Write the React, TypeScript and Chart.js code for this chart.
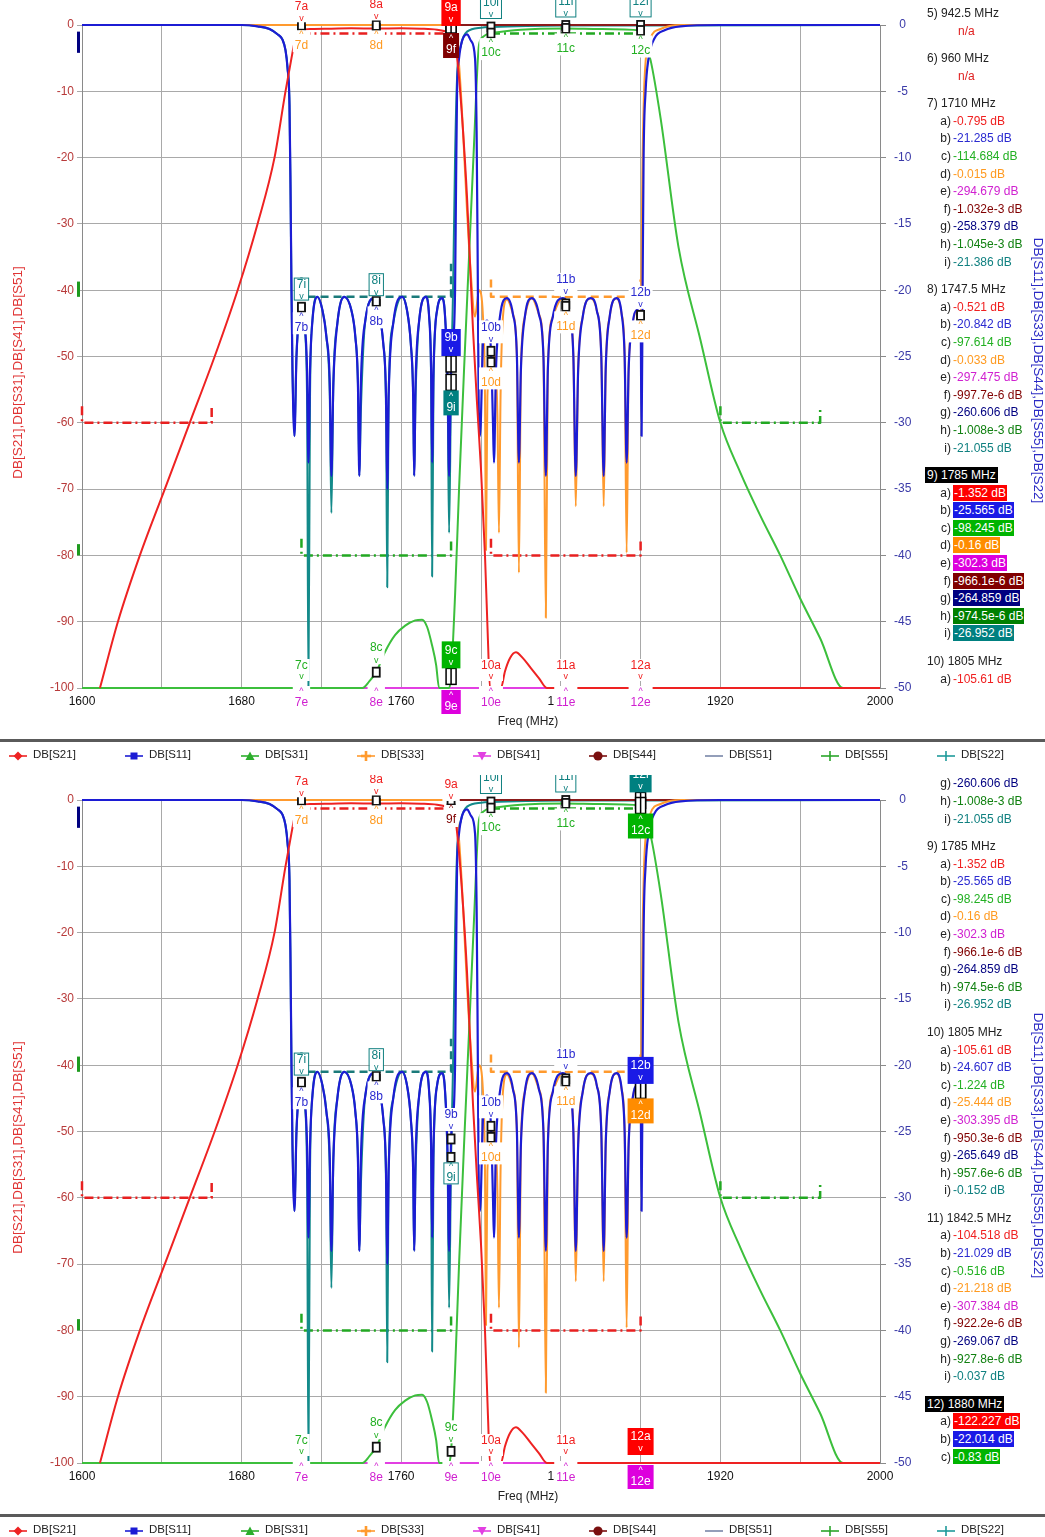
import React, { useEffect, useRef } from "react";
import { Chart, registerables } from "chart.js";

Chart.register(...registerables);

const FONT = "'Liberation Sans', Arial, Helvetica, sans-serif";

// ---------------- axes ----------------
const X_MIN = 1600;
const X_MAX = 2000;
const X_GRID_STEP = 40;
const X_LABEL_STEP = 80;
const YL_MIN = -100;
const YL_MAX = 0;
const YL_STEP = 10;
const YR_MIN = -50;
const YR_MAX = 0;
const YR_STEP = 5;

const X_TITLE = "Freq (MHz)";
const Y_LEFT_TITLE = "DB[S21],DB[S31],DB[S41],DB[S51]";
const Y_RIGHT_TITLE = "DB[S11],DB[S33],DB[S44],DB[S55],DB[S22]";

// ---------------- traces (MHz / dB) ----------------
const S21_F = [
  1609, 1618, 1629, 1641.5, 1654, 1666.5, 1678, 1688, 1696.5, 1702,
  1705, 1707, 1710, 1715, 1725, 1735, 1747.5, 1760, 1770, 1778,
  1782, 1785, 1787, 1789, 1791, 1793, 1794.5, 1796, 1798, 1800,
  1802, 1803.5, 1804.5, 1810, 1812, 1814.5, 1817.5, 1821, 1825, 1829,
  1833, 2000,
];
const S21_V = [
  -100, -90, -80, -70, -60, -50, -40, -30, -20, -10,
  -5, -2, -0.8, -0.6, -0.55, -0.5, -0.52, -0.5, -0.55, -0.7,
  -0.95, -1.35, -2.5, -8, -16, -26, -36, -46, -57, -67,
  -80, -93, -100, -100, -97.5, -95.5, -94.6, -95.5, -97, -98.5,
  -100, -100,
];

const S11_F = [
  1600, 1680, 1688, 1694, 1698, 1700.5, 1702, 1703, 1704, 1704.5, 1705, 1705.5,
  1706.5, 1707.5, 1709, 1710, 1711.5, 1712.8, 1713.5,
  1714.3, 1715.5, 1718, 1720.5, 1722.5, 1724.2, 1725,
  1726, 1728, 1731.5, 1735, 1737, 1738.3, 1739,
  1739.8, 1742, 1746.5, 1749, 1751, 1752.4, 1753,
  1753.7, 1756, 1760.5, 1763, 1764.8, 1766, 1766.5,
  1767.2, 1769, 1772.5, 1774, 1775, 1775.5,
  1776.2, 1778, 1780.5, 1782, 1783.3, 1784,
  1785, 1786, 1787, 1787.5, 1788, 1789, 1790.5, 1793, 1795, 1797, 1797.8, 1798.3, 1798.8, 1799.5,
  1801, 1803, 1805, 1806, 1806.5,
  1807.5, 1809.5, 1813, 1816, 1818, 1819,
  1820, 1822, 1825.5, 1829, 1831.3, 1832.5,
  1833.5, 1836, 1841, 1844, 1846.3, 1847.5,
  1848.7, 1851, 1855, 1858, 1860.3, 1861.5,
  1862.5, 1864.5, 1868, 1870.5, 1872, 1873,
  1874, 1876, 1878, 1880, 1880.5,
  1881, 1881.5, 1882.5, 1884, 1887, 1892, 1900, 1920, 2000,
];
const S11_V = [
  0, 0, -0.1, -0.3, -0.7, -1.1, -1.9, -3.2, -6, -12, -20, -26,
  -31, -25, -21.8, -21.3, -22.5, -26, -33,
  -26, -22.3, -20.5, -21.5, -23.5, -27, -34,
  -27, -22.5, -20.5, -21.5, -23.5, -27, -34,
  -27, -22.3, -20.6, -21.8, -24, -28, -35,
  -28, -22.5, -20.5, -21.6, -24, -28, -34,
  -27, -22.3, -20.5, -22, -26, -33,
  -26, -21.5, -20.6, -22, -27, -34,
  -25.6, -24, -20, -12, -5, -2.5, -1.2, -0.7, -1.2, -2.5, -8, -17, -28, -31,
  -24, -22.3, -24.6, -30, -33,
  -26, -22, -20.6, -21.8, -25, -33,
  -26, -22, -20.6, -21.8, -25, -34,
  -26, -22, -20.6, -21.5, -25, -34,
  -26, -22, -20.6, -21.5, -25, -34,
  -26, -22, -20.6, -21.8, -25, -33,
  -26, -22.5, -21.5, -22, -31,
  -20, -10, -5, -2.5, -1, -0.4, -0.1, 0, 0,
];

const S22_F = [
  1600, 1680, 1688, 1694, 1698, 1700.5, 1702, 1703, 1704, 1704.5, 1705, 1705.5,
  1706.5, 1707.5, 1709, 1710, 1711.5, 1712.8, 1713.5,
  1714.3, 1715.5, 1718, 1720.5, 1722.5, 1724.2, 1725,
  1726, 1728, 1731.5, 1735, 1737, 1738.3, 1739,
  1739.8, 1742, 1746.5, 1749, 1751, 1752.4, 1753,
  1753.7, 1756, 1760.5, 1763, 1764.8, 1766, 1766.5,
  1767.2, 1769, 1772.5, 1774, 1775, 1775.5,
  1776.2, 1778, 1780.5, 1782, 1783.3, 1784,
  1785, 1786, 1787, 1788, 1790, 1793, 1800, 1805, 1842.5, 1880, 2000,
];
const S22_V = [
  0, 0, -0.1, -0.3, -0.7, -1.1, -1.9, -3.2, -6, -12, -20, -26,
  -31, -25, -21.8, -21.4, -22.8, -28, -50,
  -28, -22.3, -20.5, -21.5, -23.5, -28, -36.8,
  -27, -22.5, -20.5, -21.5, -23.5, -27, -34,
  -29, -22.3, -20.6, -21.8, -24, -29, -42.4,
  -28, -22.5, -20.5, -21.6, -24, -28, -34,
  -28, -22.3, -20.5, -22, -27, -41.6,
  -27, -21.5, -20.6, -22, -28, -38.3,
  -26.95, -20, -10, -4, -1.5, -0.5, -0.2, -0.152, -0.037, -0.03, 0,
];

const S33_F = [
  1600, 1783, 1785, 1787, 1789, 1791, 1793, 1795, 1797, 1799,
  1801, 1802, 1802.5, 1803.2, 1805, 1807, 1808.3, 1809, 1809.8, 1811,
  1813, 1816, 1818, 1819, 1820, 1822, 1825.5, 1829, 1831.3, 1832.5,
  1833.5, 1836, 1841, 1842.5, 1844, 1846.3, 1847.5, 1848.7, 1851, 1855,
  1858, 1860.3, 1861.5, 1862.5, 1864.5, 1868, 1870.5, 1872, 1873, 1874,
  1876, 1878, 1880, 1881, 1882, 1885, 1890, 1900, 2000,
];
const S33_V = [
  0, 0, -0.16, -0.8, -3, -8, -14, -19, -22, -20,
  -22, -28, -39.6, -28, -25.4, -25, -30, -38.3, -28, -22,
  -20.7, -21.8, -25, -41.3, -26, -22, -20.6, -21.8, -25, -44.7,
  -26, -22, -20.6, -21.2, -21.5, -25, -36.3, -26, -22, -20.6,
  -21.5, -25, -36.3, -26, -22, -20.6, -21.8, -25, -39.8, -26,
  -22.5, -21.5, -22, -10, -4, -1, -0.3, 0, 0,
];

const S31_F = [
  1600, 1740.5, 1744, 1747.5, 1752, 1757, 1762, 1767, 1770.5, 1773,
  1775.5, 1777.5, 1779, 1784, 1785, 1787, 1789, 1791.5, 1794, 1796.5,
  1799, 1801, 1803.5, 1805, 1820, 1842.5, 1860, 1880, 1882, 1885,
  1890, 1899, 1910, 1920, 1930, 1940, 1950, 1960, 1970, 1981.5, 2000,
];
const S31_V = [
  -100, -100, -99, -97.6, -94.5, -92, -90.6, -89.8, -89.7, -90.8,
  -93.6, -96.5, -100, -100, -98.2, -86, -70, -52, -35, -18,
  -3, -1.8, -1.3, -1.22, -0.7, -0.52, -0.6, -0.83, -2.5, -5.3,
  -14, -33.5, -47.5, -60, -67.5, -74, -80, -86.5, -92.5, -100, -100,
];

const S41_F = [1600, 2000];
const S41_V = [-100, -100];
const S44_F = [1600, 2000];
const S44_V = [0, 0];
const S51_F = [1600, 2000];
const S51_V = [-100, -100];
const S55_F = [1600, 2000];
const S55_V = [0, 0];

// ---------------- limit masks ----------------
const MASK_S21_PASS_F = [1710, 1785];
const MASK_S21_PASS_V = [-1.3, -1.3];
const MASK_S21_LOW_F = [1600, 1600, 1665, 1665];
const MASK_S21_LOW_V = [-57.5, -60, -60, -57.5];
const MASK_S21_RX_F = [1805, 1805, 1880, 1880];
const MASK_S21_RX_V = [-77.5, -80, -80, -77.5];
const MASK_S31_TX_F = [1710, 1710, 1785, 1785];
const MASK_S31_TX_V = [-77.5, -80, -80, -77.5];
const MASK_S31_PASS_F = [1805, 1880];
const MASK_S31_PASS_V = [-1.3, -1.3];
const MASK_S31_HIGH_F = [1920, 1920, 1970, 1970];
const MASK_S31_HIGH_V = [-57.5, -60, -60, -57.5];
const MASK_S22_TX_F = [1710, 1710, 1785, 1785];
const MASK_S22_TX_V = [-19, -20.5, -20.5, -18];
const MASK_S33_RX_F = [1805, 1805, 1880, 1880];
const MASK_S33_RX_V = [-19.2, -20.5, -20.5, -19.2];

// small limit indicators at the left axis (left dB)
const LEFT_BAR_FROM = [-1, -38.7, -78.3];
const LEFT_BAR_TO = [-4.2, -41, -80];
const LEFT_BAR_COLORS = ["#000080", "#1e9a1e", "#1e9a1e"];

// ---------------- markers ----------------
const SERIES_NAMES = ["DB[S21]", "DB[S11]", "DB[S31]", "DB[S33]", "DB[S41]", "DB[S44]", "DB[S51]", "DB[S55]", "DB[S22]"];
const SERIES_COLORS = ["#ee2222", "#1c1cd4", "#3cbf3c", "#ff9a2e", "#e23fe2", "#8b1a1a", "#23237a", "#2aa52a", "#138a8a"];
const LEGEND_COLORS = ["#ee2222", "#1c1cd4", "#2cae2c", "#ff9a2e", "#e23fe2", "#7a0f0f", "#7886a8", "#2aa52a", "#1f9a9a"];
const LEGEND_SHAPES = ["diamond", "square", "triangle", "plusBold", "triDown", "octagon", "none", "plus", "plus"];

const LETTERS = ["a", "b", "c", "d", "e", "f", "g", "h", "i"];
const LETTER_AXIS = ["y", "y2", "y", "y2", "y", "y2", "y", "y2", "y2"];
const LETTER_COLORS = ["#f02020", "#2a2ad0", "#22b022", "#ff9a20", "#d020d0", "#800000", "#000080", "#108010", "#108080"];
const LETTER_BG = ["#ff0000", "#1a1ae6", "#00b400", "#ff8c00", "#dd00dd", "#800000", "#000080", "#008000", "#008080"];

const R7 = ["-0.795", "-21.285", "-114.684", "-0.015", "-294.679", "-1.032e-3", "-258.379", "-1.045e-3", "-21.386"];
const R8 = ["-0.521", "-20.842", "-97.614", "-0.033", "-297.475", "-997.7e-6", "-260.606", "-1.008e-3", "-21.055"];
const R9 = ["-1.352", "-25.565", "-98.245", "-0.16", "-302.3", "-966.1e-6", "-264.859", "-974.5e-6", "-26.952"];
const R10 = ["-105.61", "-24.607", "-1.224", "-25.444", "-303.395", "-950.3e-6", "-265.649", "-957.6e-6", "-0.152"];
const R11 = ["-104.518", "-21.029", "-0.516", "-21.218", "-307.384", "-922.2e-6", "-269.067", "-927.8e-6", "-0.037"];
const R12 = ["-122.227", "-22.014", "-0.83", "-21.9", "-310.2", "-900.1e-6", "-272.1", "-905.2e-6", "-0.03"];

const MARKER_NUMS = [7, 8, 9, 10, 11, 12];
const MARKER_FREQS = [1710, 1747.5, 1785, 1805, 1842.5, 1880];
const MARKER_VALUES = [R7, R8, R9, R10, R11, R12];
const LABEL_SETS = [
  ["a+", "d-", "i+", "b-", "c+", "e-"],
  ["a+", "d-", "i+", "b-", "c+", "e-"],
  ["a+", "f-", "b+", "i-", "c+", "e-"],
  ["i+", "c-", "b+", "d-", "a+", "e-"],
  ["i+", "c-", "b+", "d-", "a+", "e-"],
  ["i+", "c-", "b+", "d-", "a+", "e-"],
];

const READOUT_NUMS = [5, 6, 7, 8, 9, 10, 11, 12];
const READOUT_FREQS = ["942.5", "960", "1710", "1747.5", "1785", "1805", "1842.5", "1880"];
const READOUT_VALUES = [null, null, R7, R8, R9, R10, R11, R12];

// ---------------- drawing helpers ----------------
function drawGlyph(ctx: any, x: number, y: number, active: boolean) {
  ctx.save();
  if (active) {
    ctx.fillStyle = "#fff";
    ctx.fillRect(x - 5, y - 8, 10, 16);
    ctx.strokeStyle = "#000";
    ctx.lineWidth = 1.5;
    ctx.strokeRect(x - 5, y - 8, 10, 16);
    ctx.beginPath();
    ctx.moveTo(x, y - 8);
    ctx.lineTo(x, y + 8);
    ctx.stroke();
  } else {
    ctx.fillStyle = "#fff";
    ctx.fillRect(x - 3.5, y - 4.5, 7, 9);
    ctx.strokeStyle = "#111";
    ctx.lineWidth = 1.8;
    ctx.strokeRect(x - 3.5, y - 4.5, 7, 9);
  }
  ctx.restore();
}

function drawLabel(ctx: any, x: number, py: number, text: string, li: number, up: boolean, off: boolean, active: boolean) {
  ctx.save();
  ctx.textAlign = "center";
  ctx.textBaseline = "middle";
  ctx.font = `12px ${FONT}`;
  const tw = ctx.measureText(text).width;
  const chev = up ? "v" : "^";
  if (active) {
    let top, bot, ty, cy;
    if (up) { top = py - 35; bot = py - 8; ty = py - 26; cy = py - 14; }
    else if (off) { top = py + 2; bot = py + 26; cy = py + 8; ty = py + 19; }
    else { top = py + 8; bot = py + 33; cy = py + 14; ty = py + 25; }
    ctx.fillStyle = LETTER_BG[li];
    ctx.fillRect(x - tw / 2 - 3, top, tw + 6, bot - top);
    ctx.fillStyle = "#fff";
    ctx.fillText(text, x, ty);
    ctx.font = `9px ${FONT}`;
    ctx.fillText(chev, x, cy);
  } else {
    let ty, cy, top, bot;
    if (up) {
      ty = off ? py - 22 : py - 24;
      cy = off ? py - 11 : py - 12;
      top = ty - 7;
      bot = cy + 4;
    } else {
      cy = off ? py + 4 : py + 9;
      ty = off ? py + 15 : py + 20;
      top = off ? py - 2 : cy - 4;
      bot = ty + 7;
    }
    ctx.fillStyle = "#fff";
    ctx.fillRect(x - tw / 2 - 2, top, tw + 4, bot - top);
    if (li === 8) {
      ctx.strokeStyle = LETTER_COLORS[li];
      ctx.lineWidth = 1;
      ctx.strokeRect(x - tw / 2 - 2.5, top + 0.5, tw + 5, bot - top - 1);
    }
    ctx.fillStyle = LETTER_COLORS[li];
    ctx.fillText(text, x, ty);
    ctx.font = `9px ${FONT}`;
    ctx.fillText(chev, x, cy);
  }
  ctx.restore();
}

const overlayPlugin = {
  id: "markerOverlay",
  afterDatasetsDraw(chart: any, _args: any, opts: any) {
    const ctx = chart.ctx;
    const xs = chart.scales.x;
    const yl = chart.scales.y;
    const active = opts.active;
    ctx.save();
    // left-axis limit indicators
    LEFT_BAR_FROM.forEach((v0, k) => {
      const a = yl.getPixelForValue(v0);
      const b = yl.getPixelForValue(LEFT_BAR_TO[k]);
      ctx.fillStyle = LEFT_BAR_COLORS[k];
      ctx.fillRect(chart.chartArea.left - 5, Math.min(a, b), 3, Math.abs(b - a));
    });
    const all: any[] = [];
    MARKER_FREQS.forEach((f, mi) => {
      const num = MARKER_NUMS[mi];
      const vals = MARKER_VALUES[mi].map((s) => parseFloat(s));
      const px = xs.getPixelForValue(f);
      LABEL_SETS[mi].forEach((code) => {
        const li = LETTERS.indexOf(code[0]);
        const sc = chart.scales[LETTER_AXIS[li]];
        const v = vals[li];
        const off = v < sc.min;
        const py = sc.getPixelForValue(Math.max(sc.min, Math.min(sc.max, v)));
        all.push({ px, py, off, li, up: code[1] === "+", text: `${num}${LETTERS[li]}`, act: num === active });
      });
    });
    all.forEach((it) => { if (!it.off) drawGlyph(ctx, it.px, it.py, it.act); });
    all.forEach((it) => drawLabel(ctx, it.px, it.py, it.text, it.li, it.up, it.off, it.act));
    ctx.restore();
  },
  afterDraw(chart: any) {
    const ctx = chart.ctx;
    const ca = chart.chartArea;
    ctx.save();
    ctx.textAlign = "center";
    ctx.textBaseline = "middle";
    ctx.font = `12px ${FONT}`;
    ctx.fillStyle = "#222";
    ctx.fillText(X_TITLE, (ca.left + ca.right) / 2 + 47, ca.bottom + 34);
    ctx.font = `13.5px ${FONT}`;
    ctx.save();
    ctx.translate(18, (ca.top + ca.bottom) / 2 + 16);
    ctx.rotate(-Math.PI / 2);
    ctx.fillStyle = "#e03434";
    ctx.fillText(Y_LEFT_TITLE, 0, 0);
    ctx.restore();
    ctx.save();
    ctx.translate(1038, (ca.top + ca.bottom) / 2 + 14);
    ctx.rotate(Math.PI / 2);
    ctx.fillStyle = "#2a2ac4";
    ctx.fillText(Y_RIGHT_TITLE, 0, 0);
    ctx.restore();
    ctx.restore();
  },
};

function ds(label: string, f: number[], v: number[], axis: string, color: string, width: number, extra: any = {}) {
  return {
    label,
    data: f.map((x, i) => ({ x, y: v[i] })),
    yAxisID: axis,
    borderColor: color,
    backgroundColor: color,
    borderWidth: width,
    pointRadius: 0,
    fill: false,
    clip: false,
    ...extra,
  };
}

function buildConfig(active: number): any {
  const smooth = { cubicInterpolationMode: "monotone" };
  const dashDot = { borderDash: [9, 4, 2, 4], tension: 0 };
  const dashed = { borderDash: [8, 5], tension: 0 };
  const datasets = [
    ds(SERIES_NAMES[0], S21_F, S21_V, "y", SERIES_COLORS[0], 2, smooth),
    ds(SERIES_NAMES[1], S11_F, S11_V, "y2", SERIES_COLORS[1], 2.2, smooth),
    ds(SERIES_NAMES[2], S31_F, S31_V, "y", SERIES_COLORS[2], 2, smooth),
    ds(SERIES_NAMES[3], S33_F, S33_V, "y2", SERIES_COLORS[3], 2, smooth),
    ds(SERIES_NAMES[4], S41_F, S41_V, "y", SERIES_COLORS[4], 2),
    ds(SERIES_NAMES[5], S44_F, S44_V, "y2", SERIES_COLORS[5], 2),
    ds(SERIES_NAMES[6], S51_F, S51_V, "y", SERIES_COLORS[6], 2),
    ds(SERIES_NAMES[7], S55_F, S55_V, "y2", SERIES_COLORS[7], 2),
    ds(SERIES_NAMES[8], S22_F, S22_V, "y2", SERIES_COLORS[8], 2, smooth),
    ds("mask", MASK_S21_PASS_F, MASK_S21_PASS_V, "y", "#e82020", 2.5, dashDot),
    ds("mask", MASK_S21_LOW_F, MASK_S21_LOW_V, "y", "#e82020", 2.5, dashDot),
    ds("mask", MASK_S21_RX_F, MASK_S21_RX_V, "y", "#e82020", 2.5, dashDot),
    ds("mask", MASK_S31_TX_F, MASK_S31_TX_V, "y", "#22a822", 2.5, dashDot),
    ds("mask", MASK_S31_PASS_F, MASK_S31_PASS_V, "y", "#22a822", 2.5, dashDot),
    ds("mask", MASK_S31_HIGH_F, MASK_S31_HIGH_V, "y", "#22a822", 2.5, dashDot),
    ds("mask", MASK_S22_TX_F, MASK_S22_TX_V, "y2", "#1a7a7a", 2.5, dashed),
    ds("mask", MASK_S33_RX_F, MASK_S33_RX_V, "y2", "#ff9a2e", 2.5, dashed),
  ];
  const grid = "#a9a9a9";
  return {
    type: "line",
    data: { datasets },
    options: {
      responsive: false,
      animation: false,
      devicePixelRatio: 1,
      events: [],
      layout: { padding: { top: 25, left: 0, right: 0, bottom: 0 } },
      elements: { line: { borderJoinStyle: "round" } },
      plugins: {
        legend: { display: false },
        tooltip: { enabled: false },
        markerOverlay: { active },
      },
      scales: {
        x: {
          type: "linear",
          min: X_MIN,
          max: X_MAX,
          ticks: {
            stepSize: X_GRID_STEP,
            autoSkip: false,
            maxRotation: 0,
            color: "#111",
            font: { size: 12, family: FONT },
            padding: 6,
            callback: (v: number) => (v % X_LABEL_STEP === 0 ? String(v) : ""),
          },
          grid: { color: grid, drawTicks: false },
          border: { color: "#8a8a8a" },
          afterFit: (s: any) => { s.height = 52; },
        },
        y: {
          position: "left",
          min: YL_MIN,
          max: YL_MAX,
          ticks: { stepSize: YL_STEP, color: "#b83a3a", font: { size: 12, family: FONT }, padding: 3 },
          grid: { color: grid, tickLength: 5 },
          border: { color: "#8a8a8a" },
          afterFit: (s: any) => { s.width = 82; },
        },
        y2: {
          position: "right",
          min: YR_MIN,
          max: YR_MAX,
          ticks: { stepSize: YR_STEP, color: "#3a3aa8", font: { size: 12, family: FONT }, padding: 8, crossAlign: "center" },
          grid: { drawOnChartArea: false, tickLength: 6, color: "#8a8a8a" },
          border: { color: "#8a8a8a" },
          afterFit: (s: any) => { s.width = 165; },
        },
      },
    },
    plugins: [overlayPlugin],
  };
}

// ---------------- readouts ----------------
const HEADER_GAP = 27.5;
const LINE_STEP = 17.6;

function buildLines() {
  const lines: any[] = [];
  let y = 0;
  READOUT_NUMS.forEach((n, k) => {
    if (k > 0) y += HEADER_GAP;
    lines.push({ kind: "h", marker: n, text: `${n}) ${READOUT_FREQS[k]} MHz`, y });
    const vals = READOUT_VALUES[k];
    if (!vals) {
      y += LINE_STEP;
      lines.push({ kind: "na", marker: n, text: "n/a", y });
    } else {
      vals.forEach((v, li) => {
        y += LINE_STEP;
        lines.push({ kind: "v", marker: n, li, text: `${v} dB`, y });
      });
    }
  });
  return lines;
}

function Readouts({ active, anchor, anchorY }: { active: number; anchor: number; anchorY: number }) {
  const lines = buildLines();
  const anc = lines.find((l) => l.kind === "h" && l.marker === anchor);
  const offset = anchorY - anc.y;
  const clipTop = 3;
  return (
    <div style={{ position: "absolute", left: 0, top: clipTop, width: 1045, height: 686, overflow: "hidden", pointerEvents: "none" }}>
      {lines.map((l, i) => {
        const top = l.y + offset - clipTop - 8;
        if (top < -20 || top > 700) return null;
        const isAct = l.marker === active;
        const base: any = { position: "absolute", top, height: 16, lineHeight: "16px", fontSize: 12, fontFamily: FONT, whiteSpace: "nowrap" };
        if (l.kind === "h") {
          return (
            <div key={i} style={{ ...base, left: isAct ? 925 : 927, color: isAct ? "#fff" : "#222", background: isAct ? "#000" : "transparent", padding: isAct ? "0 2px" : 0 }}>
              {l.text}
            </div>
          );
        }
        if (l.kind === "na") {
          return <div key={i} style={{ ...base, left: 958, color: "#e02020" }}>{l.text}</div>;
        }
        return (
          <React.Fragment key={i}>
            <div style={{ ...base, left: 926, width: 25, textAlign: "right", color: "#222" }}>{LETTERS[l.li]})</div>
            <div style={{ ...base, left: 953, color: isAct ? "#fff" : LETTER_COLORS[l.li], background: isAct ? LETTER_BG[l.li] : "transparent", padding: isAct ? "0 1px" : 0 }}>
              {l.text}
            </div>
          </React.Fragment>
        );
      })}
    </div>
  );
}

// ---------------- legend ----------------
function LegendMark({ shape, color }: { shape: string; color: string }) {
  return (
    <svg width={18} height={12} viewBox="0 0 18 12">
      <line x1={0} y1={6} x2={18} y2={6} stroke={color} strokeWidth={1.6} />
      {shape === "diamond" && <polygon points="9,1.5 13.5,6 9,10.5 4.5,6" fill={color} />}
      {shape === "square" && <rect x={5.5} y={2.5} width={7} height={7} fill={color} />}
      {shape === "triangle" && <polygon points="9,1.5 13.5,10 4.5,10" fill={color} />}
      {shape === "triDown" && <polygon points="4.5,2 13.5,2 9,10.5" fill={color} />}
      {shape === "octagon" && <circle cx={9} cy={6} r={4.6} fill={color} />}
      {shape === "plusBold" && (
        <g stroke={color} strokeWidth={2.6}>
          <line x1={9} y1={1} x2={9} y2={11} />
          <line x1={4} y1={6} x2={14} y2={6} />
        </g>
      )}
      {shape === "plus" && (
        <g stroke={color} strokeWidth={1.6}>
          <line x1={9} y1={1} x2={9} y2={11} />
        </g>
      )}
    </svg>
  );
}

function Legend({ top }: { top: number }) {
  return (
    <div style={{ position: "absolute", left: 0, top, width: 1045, height: 20 }}>
      {SERIES_NAMES.map((name, i) => (
        <React.Fragment key={name}>
          <div style={{ position: "absolute", left: 9 + i * 116, top: 4 }}>
            <LegendMark shape={LEGEND_SHAPES[i]} color={LEGEND_COLORS[i]} />
          </div>
          <div style={{ position: "absolute", left: 33 + i * 116, top: 2, fontSize: 11.5, lineHeight: "16px", fontFamily: FONT, color: "#222", whiteSpace: "nowrap" }}>
            {name}
          </div>
        </React.Fragment>
      ))}
    </div>
  );
}

// ---------------- panel ----------------
function Panel({ active, top, height, anchor, anchorY }: { active: number; top: number; height: number; anchor: number; anchorY: number }) {
  const ref = useRef<HTMLCanvasElement>(null);
  useEffect(() => {
    if (!ref.current) return;
    const chart = new Chart(ref.current, buildConfig(active));
    return () => chart.destroy();
  }, [active]);
  return (
    <div style={{ position: "absolute", left: 0, top, width: 1045, height, overflow: "hidden", background: "#fff" }}>
      <canvas ref={ref} width={1045} height={740} style={{ position: "absolute", left: 0, top: 0, width: 1045, height: 740, display: "block" }} />
      <Readouts active={active} anchor={anchor} anchorY={anchorY} />
      <div style={{ position: "absolute", left: 0, top: 739, width: 1045, height: 3, background: "#5a5a5a" }} />
      <Legend top={744} />
    </div>
  );
}

export default function App() {
  useEffect(() => {
    document.body.style.margin = "0";
    document.body.style.overflow = "hidden";
  }, []);
  return (
    <div style={{ position: "relative", width: 1045, height: 1537, overflow: "hidden", background: "#fff", fontFamily: FONT }}>
      <style>{"html,body{margin:0;padding:0;overflow:hidden;background:#fff}"}</style>
      <Panel active={9} top={0} height={775} anchor={5} anchorY={13} />
      <Panel active={12} top={775} height={762} anchor={9} anchorY={71} />
    </div>
  );
}
